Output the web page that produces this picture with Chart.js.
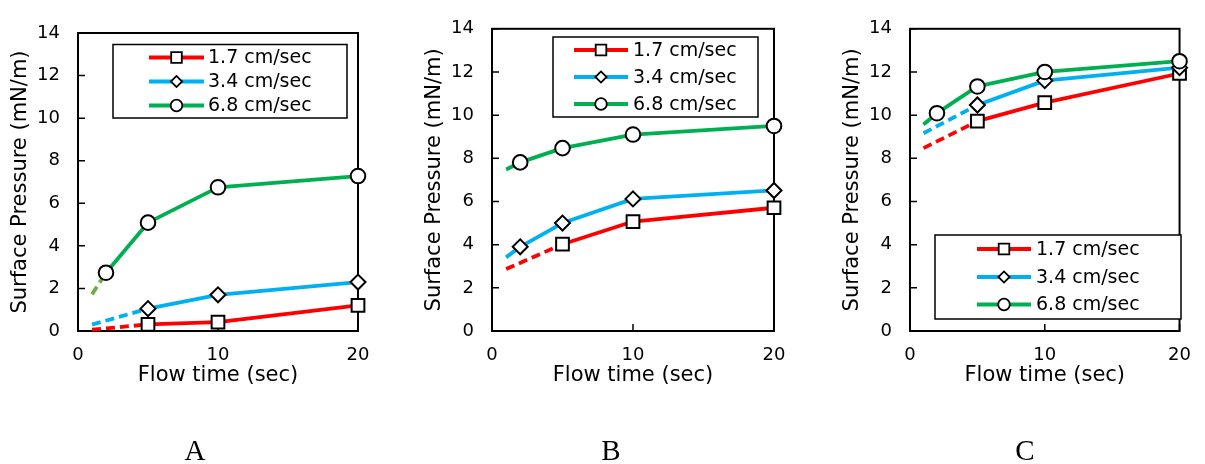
<!DOCTYPE html>
<html><head><meta charset="utf-8">
<script src="https://cdn.jsdelivr.net/npm/chart.js@4.4.0/dist/chart.umd.min.js"></script>
<style>
html,body{margin:0;padding:0;background:#fff;width:1205px;height:464px;overflow:hidden}
#wrap{position:relative;width:1205px;height:464px}
canvas{position:absolute;left:0;top:0}
.lbl{position:absolute;font-family:"Liberation Serif";font-size:29px;line-height:29px;width:80px;text-align:center;top:436px;color:#000}
</style></head><body>
<div id="wrap">
<canvas id="cA" width="1205" height="464"></canvas>
<canvas id="cB" width="1205" height="464"></canvas>
<canvas id="cC" width="1205" height="464"></canvas>
<div class="lbl" style="left:155px">A</div>
<div class="lbl" style="left:571px">B</div>
<div class="lbl" style="left:985px">C</div>
</div>
<script>
// ---- data ----
const flowTimes = [1, 2, 5, 10, 20];          // sec (x=1 is the extrapolated line start, no marker)
const seriesNames = ['1.7 cm/sec', '3.4 cm/sec', '6.8 cm/sec'];
const xTicks = [0, 10, 20];
const yTicks = [0, 2, 4, 6, 8, 10, 12, 14];

// Panel A
const a17 = [0.06, null, 0.31, 0.42, 1.20];
const a34 = [0.30, null, 1.05, 1.70, 2.30];
const a68 = [1.72, 2.74, 5.09, 6.75, 7.28];
// Panel B
const b17 = [2.87, null, 4.02, 5.07, 5.71];
const b34 = [3.41, 3.90, 5.00, 6.12, 6.51];
const b68 = [7.48, 7.81, 8.47, 9.10, 9.50];
// Panel C
const c17 = [8.47, null, 9.72, 10.58, 11.93];
const c34 = [9.16, null, 10.47, 11.60, 12.20];
const c68 = [9.57, 10.09, 11.33, 12.00, 12.50];

// ---- styles ----
const colors = ['#FF0000', '#00B0F0', '#00B050'];
const pointStyles = ['rect', 'rectRot', 'circle'];
const pointRadii = [9, 7.5, 7.3];
const legendRadii = [7.5, 5.6, 5.8];
const FONT = 'DejaVu Sans';

const panels = [
  { id: 'cA', values: [a17, a34, a68], dashed: [true, true, true], firstColor: [null, null, '#70AD47'],
    area: { left: 78, right: 358, top: 33, bottom: 331 },
    legend: { box: [113, 44.5, 347, 118], rows: [57.5, 81.5, 105.5], x0: 149, x1: 204, tx: 208 } },
  { id: 'cB', values: [b17, b34, b68], dashed: [true, false, false], firstColor: [null, null, null],
    area: { left: 492, right: 774, top: 27, bottom: 331 },
    legend: { box: [553, 37, 758, 117], rows: [50, 77, 104], x0: 574, x1: 628, tx: 633 } },
  { id: 'cC', values: [c17, c34, c68], dashed: [true, true, false], firstColor: [null, null, null],
    area: { left: 910, right: 1191, top: 20, bottom: 331 },
    legend: { box: [935, 235, 1181, 319], rows: [249, 277, 304.5], x0: 977, x1: 1031, tx: 1036 } }
];

const Y_AXIS_W = 70, X_AXIS_H = 57, W = 1205, H = 464;

const framePlugin = {
  id: 'frame',
  beforeDatasetsDraw(chart) {
    const { ctx, chartArea: a, scales: { x, y } } = chart;
    ctx.save();
    ctx.strokeStyle = '#000';
    ctx.lineWidth = 2;
    ctx.strokeRect(a.left, a.top, a.right - a.left, a.bottom - a.top);
    ctx.lineWidth = 1.5;
    ctx.beginPath();
    y.ticks.forEach(t => { const py = y.getPixelForValue(t.value); ctx.moveTo(a.left, py); ctx.lineTo(a.left + 7, py); });
    x.ticks.forEach(t => { const px = x.getPixelForValue(t.value); ctx.moveTo(px, a.bottom); ctx.lineTo(px, a.bottom - 7); });
    ctx.stroke();
    ctx.restore();
  }
};

const legendPlugin = {
  id: 'inlegend',
  afterDraw(chart, args, opts) {
    const { ctx } = chart;
    const b = opts.box;
    ctx.save();
    ctx.fillStyle = '#fff';
    ctx.fillRect(b[0], b[1], b[2] - b[0], b[3] - b[1]);
    ctx.strokeStyle = '#000';
    ctx.lineWidth = 1.5;
    ctx.strokeRect(b[0], b[1], b[2] - b[0], b[3] - b[1]);
    chart.data.datasets.forEach((ds, i) => {
      const yy = opts.rows[i];
      ctx.setLineDash([]);
      ctx.strokeStyle = ds.borderColor;
      ctx.lineWidth = 3.8;
      ctx.beginPath(); ctx.moveTo(opts.x0, yy); ctx.lineTo(opts.x1, yy); ctx.stroke();
      ctx.fillStyle = '#fff'; ctx.strokeStyle = '#000'; ctx.lineWidth = 1.8;
      Chart.helpers.drawPoint(ctx, { pointStyle: ds.pointStyle, radius: legendRadii[i], rotation: 0, borderWidth: 1.8 }, (opts.x0 + opts.x1) / 2, yy);
      ctx.fillStyle = '#000';
      ctx.font = '19px "' + FONT + '"';
      ctx.textBaseline = 'middle';
      ctx.textAlign = 'left';
      ctx.fillText(ds.label, opts.tx, yy + 1);
    });
    ctx.restore();
  }
};

panels.forEach(p => {
  const datasets = p.values.map((vals, i) => {
    // index of the first measured point after the extrapolated start
    let firstIdx = 1;
    while (firstIdx < vals.length && vals[firstIdx] === null) firstIdx++;
    const isFirst = c => c.p1DataIndex === firstIdx;
    return {
      label: seriesNames[i],
      data: flowTimes.map((t, k) => ({ x: t, y: vals[k] })),
      borderColor: colors[i],
      backgroundColor: colors[i],
      borderWidth: 3.8,
      borderJoinStyle: 'round',
      tension: 0,
      spanGaps: true,
      clip: false,
      order: 2 - i,
      pointStyle: pointStyles[i],
      pointRadius: c => c.dataIndex === 0 ? 0 : pointRadii[i],
      pointHoverRadius: c => c.dataIndex === 0 ? 0 : pointRadii[i],
      pointBackgroundColor: '#fff',
      pointBorderColor: '#000',
      pointBorderWidth: 2,
      segment: {
        borderDash: c => (isFirst(c) && p.dashed[i]) ? [9, 5] : undefined,
        borderColor: c => (isFirst(c) && p.firstColor[i]) ? p.firstColor[i] : undefined
      }
    };
  });
  new Chart(document.getElementById(p.id), {
    type: 'line',
    data: { datasets },
    options: {
      responsive: false,
      animation: false,
      events: [],
      layout: { padding: { left: p.area.left - Y_AXIS_W, right: W - p.area.right, top: p.area.top, bottom: H - p.area.bottom - X_AXIS_H } },
      plugins: { legend: { display: false }, tooltip: { enabled: false }, inlegend: p.legend },
      scales: {
        x: {
          type: 'linear', min: 0, max: 20,
          afterBuildTicks: s => { s.ticks = xTicks.map(v => ({ value: v })); },
          afterFit: s => { s.height = X_AXIS_H; },
          ticks: { color: '#000', font: { family: FONT, size: 18 }, padding: 14, maxRotation: 0, autoSkip: false },
          grid: { display: false, drawTicks: false },
          border: { display: false },
          title: { display: true, text: 'Flow time (sec)', color: '#000', font: { family: FONT, size: 21 }, padding: 0 }
        },
        y: {
          type: 'linear', min: 0, max: 14,
          afterBuildTicks: s => { s.ticks = yTicks.map(v => ({ value: v })); },
          afterFit: s => { s.width = Y_AXIS_W; },
          ticks: { color: '#000', font: { family: FONT, size: 18 }, padding: 18, autoSkip: false },
          grid: { display: false, drawTicks: false },
          border: { display: false },
          title: { display: true, text: 'Surface Pressure (mN/m)', color: '#000', font: { family: FONT, size: 21 }, padding: 0 }
        }
      }
    },
    plugins: [framePlugin, legendPlugin]
  });
});
</script>
</body></html>
